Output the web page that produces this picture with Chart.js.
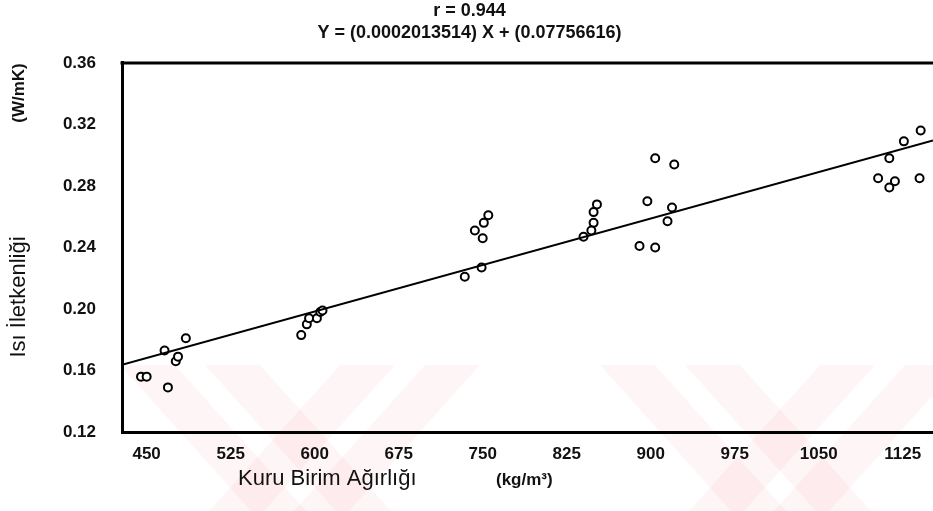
<!DOCTYPE html>
<html>
<head>
<meta charset="utf-8">
<script src="https://cdn.jsdelivr.net/npm/chart.js@4.4.1/dist/chart.umd.min.js"></script>
<style>
  html, body { margin: 0; padding: 0; background: #fff; overflow: hidden; }
  #wrap { width: 933px; height: 511px; overflow: hidden; }
</style>
</head>
<body>
<div id="wrap"><canvas id="scatterChart" width="939" height="511"></canvas></div>
<script>
// ---------------- DATA ----------------
const titleLines = ["r = 0.944", "Y = (0.0002013514) X + (0.07756616)"];
const xTicks = [450, 525, 600, 675, 750, 825, 900, 975, 1050, 1125];
const yTicks = [0.12, 0.16, 0.20, 0.24, 0.28, 0.32, 0.36];

// dry unit weight (kg/m3)
const densityValues = [
    445, 450, 469, 466, 476, 478, 485,
    588, 593, 595, 602, 605, 607,
    755, 751, 743, 750, 734, 749,
    852, 849, 849, 847, 840,
    904, 921, 897, 919, 915, 890, 904,
    1141, 1126, 1113, 1103, 1118, 1113, 1140
];
// thermal conductivity (W/mK)
const conductivityValues = [
    0.156, 0.156, 0.149, 0.173, 0.166, 0.169, 0.181,
    0.183, 0.190, 0.194, 0.194, 0.198, 0.199,
    0.261, 0.256, 0.251, 0.246, 0.221, 0.227,
    0.268, 0.263, 0.256, 0.251, 0.247,
    0.298, 0.294, 0.270, 0.266, 0.257, 0.241, 0.240,
    0.316, 0.309, 0.298, 0.285, 0.283, 0.279, 0.285
];
// regression line end points
const fitX = [428, 1152];
const fitY = [0.1637, 0.3095];

const scatterPoints = densityValues.map((x, i) => ({ x: x, y: conductivityValues[i] }));
const fitPoints = fitX.map((x, i) => ({ x: x, y: fitY[i] }));

const FONT = "'Liberation Sans', Arial, sans-serif";

// ---------------- WATERMARK (pale pink chevrons behind the plot) ----------------
const watermarkPlugin = {
    id: "watermark",
    beforeDraw(chart) {
        const ctx = chart.ctx;
        const top = 365, bottom = 511, shift = 131;
        ctx.save();
        ctx.fillStyle = "rgba(235, 80, 100, 0.06)";
        [300, 780].forEach(c => {
            [[c - 180, c - 125], [c - 95, c - 40]].forEach(([a, b]) => {
                ctx.beginPath();
                ctx.moveTo(a, top); ctx.lineTo(b, top);
                ctx.lineTo(b + shift, bottom); ctx.lineTo(a + shift, bottom);
                ctx.closePath(); ctx.fill();
            });
            [[c + 40, c + 95], [c + 125, c + 180]].forEach(([a, b]) => {
                ctx.beginPath();
                ctx.moveTo(a, top); ctx.lineTo(b, top);
                ctx.lineTo(b - shift, bottom); ctx.lineTo(a - shift, bottom);
                ctx.closePath(); ctx.fill();
            });
        });
        ctx.restore();
    }
};

// ---------------- EXTRA DRAWING (frame top + axis titles) ----------------
const extrasPlugin = {
    id: "extras",
    afterDraw(chart) {
        const ctx = chart.ctx;
        const area = chart.chartArea;
        ctx.save();
        // top frame line
        ctx.strokeStyle = "#000";
        ctx.lineWidth = 3;
        ctx.beginPath();
        ctx.moveTo(area.left - 1.5, area.top);
        ctx.lineTo(area.right, area.top);
        ctx.stroke();

        ctx.fillStyle = "#111";
        ctx.textBaseline = "middle";
        // x axis title
        ctx.textAlign = "left";
        ctx.font = "22px " + FONT;
        ctx.fillText("Kuru Birim Ağırlığı", 238, 479);
        ctx.font = "bold 17px " + FONT;
        ctx.fillText("(kg/m³)", 496, 480);

        // y axis title (rotated)
        ctx.translate(19, 0);
        ctx.rotate(-Math.PI / 2);
        ctx.textAlign = "center";
        ctx.font = "22px " + FONT;
        ctx.fillText("Isı İletkenliği", -297, 0);
        ctx.font = "bold 17px " + FONT;
        ctx.fillText("(W/mK)", -93, 0);
        ctx.restore();
    }
};

// ===================== SCATTER + FIT LINE =====================
new Chart(document.getElementById("scatterChart"), {
    type: "scatter",
    data: {
        datasets: [
            {
                label: "Fit",
                type: "line",
                data: fitPoints,
                borderColor: "#000",
                borderWidth: 2,
                pointRadius: 0,
                fill: false,
                tension: 0
            },
            {
                label: "Data",
                data: scatterPoints,
                pointStyle: "circle",
                pointRadius: 4,
                borderColor: "#000",
                borderWidth: 2,
                backgroundColor: "#fff"
            }
        ]
    },
    options: {
        responsive: false,
        animation: false,
        layout: { padding: { left: 0, right: 0, top: 0, bottom: 0 } },
        plugins: {
            legend: { display: false },
            tooltip: { enabled: false },
            title: {
                display: true,
                text: titleLines,
                color: "#111",
                font: { family: FONT, size: 18, weight: "bold", lineHeight: 1.22 },
                padding: { top: 0, bottom: 19 }
            }
        },
        scales: {
            x: {
                type: "linear",
                min: 428,
                max: 1152,
                afterBuildTicks: (scale) => { scale.ticks = xTicks.map(v => ({ value: v })); },
                afterFit: (scale) => { scale.height = 79; },
                grid: { display: false, drawTicks: false },
                border: { display: true, color: "#000", width: 3 },
                ticks: {
                    color: "#111",
                    padding: 12,
                    maxRotation: 0,
                    font: { family: FONT, size: 17, weight: "bold" },
                    callback: (v) => String(v)
                }
            },
            y: {
                type: "linear",
                min: 0.12,
                max: 0.36,
                afterBuildTicks: (scale) => { scale.ticks = yTicks.map(v => ({ value: v })); },
                afterFit: (scale) => { scale.width = 122; },
                grid: { display: false, drawTicks: false },
                border: { display: true, color: "#000", width: 3 },
                ticks: {
                    color: "#111",
                    padding: 26,
                    font: { family: FONT, size: 17, weight: "bold" },
                    callback: (v) => v.toFixed(2)
                }
            }
        }
    },
    plugins: [watermarkPlugin, extrasPlugin]
});
</script>
</body>
</html>
